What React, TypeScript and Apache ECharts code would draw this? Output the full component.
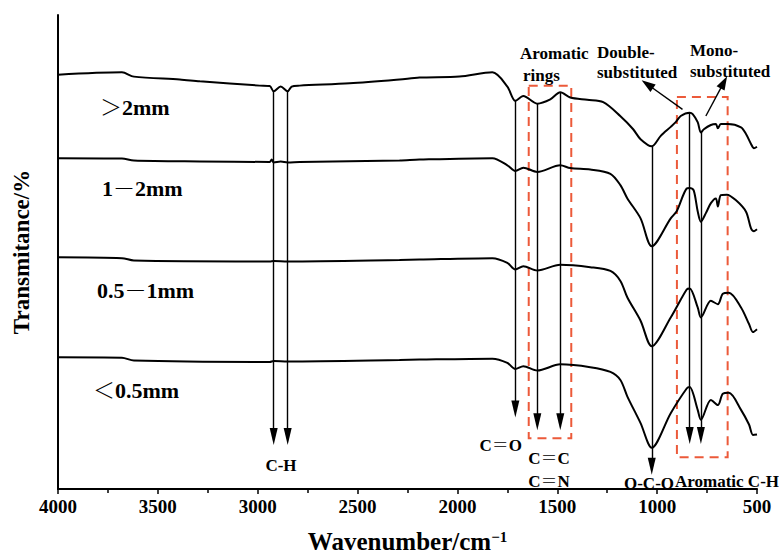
import React, { useEffect, useRef } from "react";
import * as echarts from "echarts";

// ---- Spectra (wavenumber cm-1, transmittance with vertical offset) ----
const wn1 = [4000, 3680, 3620, 3390, 3290, 2990, 2940, 2920, 2885, 2850, 2830, 2790, 2540, 2290, 2190, 1990, 1825, 1750, 1710, 1670, 1600, 1535, 1485, 1435, 1350, 1270, 1185, 1120, 1083, 1027, 982, 932, 907, 882, 837, 822, 797, 781, 766, 731, 706, 696, 681, 646, 580, 555, 530, 515, 500];
const tr1 = [87.4, 87.9, 87.0, 86.4, 86.0, 85.1, 85.0, 83.9, 84.9, 83.9, 84.9, 85.1, 85.6, 86.4, 86.8, 87.0, 87.9, 84.9, 81.9, 82.9, 81.3, 82.2, 83.7, 82.6, 82.1, 81.6, 78.7, 75.9, 73.8, 72.3, 74.5, 76.4, 77.4, 78.7, 79.4, 79.1, 77.4, 75.2, 75.9, 76.8, 77.0, 76.1, 77.0, 77.0, 76.3, 74.9, 72.8, 71.9, 72.2];

const wn2 = [4000, 3680, 3620, 3290, 2940, 2930, 2920, 2885, 2850, 2790, 2290, 2190, 1825, 1750, 1710, 1670, 1600, 1485, 1435, 1335, 1234, 1184, 1149, 1083, 1027, 932, 902, 852, 837, 817, 797, 781, 756, 731, 706, 696, 681, 651, 605, 555, 530, 515, 500];
const tr2 = [69.8, 69.7, 69.3, 69.1, 69.0, 69.5, 68.9, 69.1, 68.9, 69.0, 69.3, 69.5, 69.8, 68.3, 67.1, 67.8, 66.9, 68.3, 67.7, 67.4, 66.5, 64.1, 61.3, 57.1, 51.2, 57.1, 58.6, 63.4, 63.5, 63.0, 58.6, 56.4, 58.2, 60.3, 61.3, 59.6, 62.0, 62.1, 60.9, 58.5, 55.0, 54.4, 54.8];

const wn3 = [4000, 3680, 3620, 2940, 2920, 2850, 2290, 2190, 1825, 1750, 1710, 1670, 1600, 1485, 1335, 1234, 1184, 1149, 1083, 1027, 932, 852, 837, 797, 781, 731, 696, 671, 641, 580, 540, 520, 500];
const tr3 = [48.9, 48.7, 48.2, 48.0, 48.1, 48.0, 48.3, 48.4, 48.7, 47.7, 46.3, 47.0, 46.1, 47.3, 46.8, 46.0, 43.9, 40.4, 35.5, 30.1, 36.2, 42.1, 42.3, 38.3, 36.2, 39.7, 39.0, 41.2, 41.4, 38.3, 34.8, 33.1, 33.7];

const wn4 = [4000, 3680, 3620, 2940, 2920, 2850, 2290, 2190, 1825, 1750, 1710, 1670, 1600, 1485, 1335, 1234, 1184, 1149, 1083, 1027, 932, 852, 837, 797, 781, 731, 696, 671, 641, 580, 540, 520, 500];
const tr4 = [27.8, 27.7, 27.1, 26.8, 27.0, 26.9, 27.2, 27.3, 27.5, 26.6, 25.3, 25.9, 25.0, 26.3, 25.7, 24.7, 23.0, 19.5, 13.9, 8.7, 16.0, 21.2, 21.5, 16.7, 14.6, 18.8, 17.7, 20.1, 20.3, 16.7, 13.6, 11.4, 11.5];

const seriesNames = ["＞2mm", "1－2mm", "0.5－1mm", "＜0.5mm"];

// ---- Peak assignment arrows (wavenumber, start value, arrow end value) ----
const arrowWn = [2920, 2850, 1710, 1600, 1485, 1027, 837, 781];
const arrowTop = [83.9, 83.9, 81.9, 81.3, 83.7, 72.3, 79.4, 75.2];
const arrowEnd = [11.1, 11.1, 16.9, 14.2, 14.2, 4.8, 11.3, 11.3];

// ---- Dashed boxes [wnLeft, wnRight, top, bottom] ----
const boxWnFrom = [1643, 901];
const boxWnTo = [1430, 647];
const boxTop = [85.1, 82.7];
const boxBottom = [10.7, 6.7];

// ---- Diagonal arrows (from -> to) ----
const diagFromWn = [873, 756];
const diagFromVal = [80.1, 78.7];
const diagToWn = [1049, 666];
const diagToVal = [85.4, 85.8];

const xTicks = { min: 500, max: 4000, interval: 500 };

const SERIF = "'Liberation Serif','Times New Roman',serif";
const CJK = "'Liberation Serif','Noto Serif CJK SC','Noto Sans CJK SC',serif";
const RED = "#ec5a3a";

export default function App() {
  const ref = useRef<HTMLDivElement>(null);
  useEffect(() => {
    if (!ref.current) return;
    const chart = echarts.init(ref.current, null, { renderer: "svg" });
    const wns = [wn1, wn2, wn3, wn4];
    const trs = [tr1, tr2, tr3, tr4];

    const arrowLines = arrowWn.map((w, i) => [
      { coord: [w, arrowTop[i]], symbol: "none" },
      { coord: [w, arrowEnd[i]], symbol: "triangle", symbolSize: [8, 17] },
    ]);
    const diagLines = diagFromWn.map((w, i) => [
      { coord: [w, diagFromVal[i]], symbol: "none" },
      { coord: [diagToWn[i], diagToVal[i]], symbol: "triangle", symbolSize: [9, 14] },
    ]);
    const boxes = boxWnFrom.map((w, i) => [
      { coord: [w, boxTop[i]] },
      { coord: [boxWnTo[i], boxBottom[i]] },
    ]);

    const series: any[] = wns.map((wn, k) => ({
      type: "line",
      name: seriesNames[k],
      data: wn.map((w, i) => [w, trs[k][i]]),
      symbol: "none",
      smooth: 0.3,
      lineStyle: { color: "#000", width: 2 },
      silent: true,
    }));
    series.push({
      type: "line",
      data: [],
      silent: true,
      markLine: {
        silent: true,
        animation: false,
        label: { show: false },
        lineStyle: { color: "#000", width: 1.4, type: "solid" },
        itemStyle: { color: "#000" },
        emphasis: { disabled: true },
        data: [...arrowLines, ...diagLines],
      },
      markArea: {
        silent: true,
        itemStyle: {
          color: "rgba(0,0,0,0)",
          borderColor: RED,
          borderWidth: 2,
          borderType: [9, 6],
        },
        emphasis: { disabled: true },
        data: boxes,
      },
    });

    const txt = (t: string, x: number, y: number, size: number, align = "left", font = SERIF) => ({
      type: "text",
      x,
      y,
      silent: true,
      style: {
        text: t,
        fill: "#000",
        font: `bold ${size}px ${font}`,
        textAlign: align,
        textVerticalAlign: "middle",
      },
    });

    const graphics = [
      txt(seriesNames[0], 100, 107, 22, "left", CJK),
      txt(seriesNames[1], 102, 188, 22, "left", CJK),
      txt(seriesNames[2], 97, 290, 22, "left", CJK),
      txt(seriesNames[3], 93, 390, 22, "left", CJK),
      txt("Aromatic", 520, 53, 17),
      txt("rings", 523, 75, 17),
      txt("Double-", 597, 52, 17),
      txt("substituted", 597, 72, 17),
      txt("Mono-", 690, 50, 17),
      txt("substituted", 690, 71, 17),
      txt("C-H", 281, 465, 17, "center"),
      txt("C＝O", 522, 445, 17, "right", CJK),
      txt("C＝C", 549, 458, 17, "center", CJK),
      txt("C＝N", 549, 481, 17, "center", CJK),
      txt("O-C-O", 649, 483, 17, "center"),
      txt("Aromatic C-H", 675, 481, 17, "left"),
    ];

    chart.setOption({
      animation: false,
      grid: { left: 58, right: 22, top: 15, bottom: 66 },
      xAxis: {
        type: "value",
        inverse: true,
        min: xTicks.min,
        max: xTicks.max,
        interval: xTicks.interval,
        name: "{a|Wavenumber/cm}{b|−1}",
        nameLocation: "middle",
        nameGap: 40,
        nameTextStyle: {
          rich: {
            a: { fontFamily: SERIF, fontWeight: "bold", fontSize: 25, color: "#000" },
            b: { fontFamily: SERIF, fontWeight: "bold", fontSize: 15, color: "#000", verticalAlign: "top" },
          },
        },
        axisLine: { show: true, lineStyle: { color: "#000", width: 2 } },
        axisTick: { show: true, inside: false, length: 5, lineStyle: { color: "#000", width: 1.5 } },
        minorTick: { show: true, splitNumber: 2, length: 4, lineStyle: { color: "#000", width: 1.5 } },
        splitLine: { show: false },
        axisLabel: {
          margin: 8,
          color: "#000",
          fontFamily: SERIF,
          fontWeight: "bold",
          fontSize: 19,
          formatter: (v: number) => String(v),
        },
      },
      yAxis: {
        type: "value",
        min: 0,
        max: 100,
        name: "Transmitance/%",
        nameLocation: "middle",
        nameGap: 25,
        nameTextStyle: { fontFamily: SERIF, fontWeight: "bold", fontSize: 23, color: "#000" },
        axisLine: { show: true, lineStyle: { color: "#000", width: 2 } },
        axisTick: { show: false },
        axisLabel: { show: false },
        splitLine: { show: false },
      },
      series,
      graphic: graphics,
    });
    return () => chart.dispose();
  }, []);
  return (
    <div
      ref={ref}
      style={{ position: "absolute", left: 0, top: 0, width: 779, height: 559 }}
    />
  );
}
